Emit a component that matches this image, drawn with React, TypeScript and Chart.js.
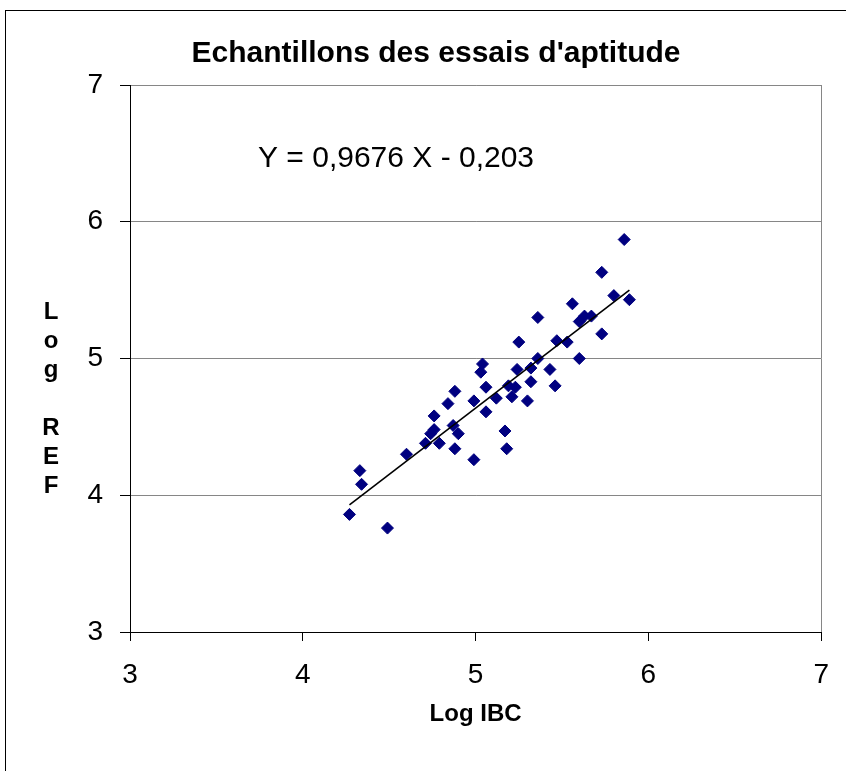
import { useEffect, useRef } from "react";
import { Chart, registerables } from "chart.js";

Chart.register(...registerables);

const FONT = '"Liberation Sans", Arial, Helvetica, sans-serif';

const titleText = "Echantillons des essais d'aptitude";
const xAxisTitle = "Log IBC";
const yAxisTitleLetters = ["L", "o", "g", "", "R", "E", "F"];
const equationText = "Y = 0,9676 X - 0,203";

const axisMin = 3;
const axisMax = 7;
const axisStep = 1;

const logIBC = [
  4.27, 4.33, 4.34, 4.49, 4.6, 4.71, 4.74, 4.76, 4.76, 4.79, 4.84, 4.87, 4.9, 4.88, 4.88, 4.99,
  4.99, 5.03, 5.04, 5.06, 5.06, 5.12, 5.17, 5.18, 5.19, 5.23, 5.21, 5.24, 5.25, 5.3, 5.32, 5.32,
  5.36, 5.36, 5.43, 5.46, 5.47, 5.53, 5.56, 5.6, 5.6, 5.63, 5.67, 5.73, 5.73, 5.8, 5.86, 5.89,
];
const logREF = [
  3.86, 4.18, 4.08, 3.76, 4.3, 4.38, 4.45, 4.48, 4.58, 4.38, 4.67, 4.51, 4.45, 4.34, 4.76, 4.26,
  4.69, 4.9, 4.96, 4.79, 4.61, 4.71, 4.47, 4.34, 4.8, 4.79, 4.72, 4.92, 5.12, 4.69, 4.93, 4.83,
  5.3, 5.0, 4.92, 4.8, 5.13, 5.12, 5.4, 5.0, 5.27, 5.31, 5.31, 5.63, 5.18, 5.46, 5.87, 5.43,
];

const trendX = [4.27, 5.89];
const trendY = [3.93, 5.5];

const overlayPlugin = {
  id: "overlay",
  beforeDraw(chart: any) {
    const ctx = chart.ctx;
    ctx.save();
    ctx.fillStyle = "#ffffff";
    ctx.fillRect(0, 0, chart.width, chart.height);
    ctx.strokeStyle = "#000000";
    ctx.lineWidth = 1;
    ctx.strokeRect(5.5, 10.5, 1000, 1000);
    ctx.restore();
  },
  afterDraw(chart: any) {
    const ctx = chart.ctx;
    ctx.save();
    ctx.fillStyle = "#000000";
    ctx.textBaseline = "alphabetic";
    ctx.textAlign = "left";
    ctx.font = `30px ${FONT}`;
    ctx.fillText(equationText, 258, 167);
    ctx.font = `bold 24px ${FONT}`;
    ctx.textAlign = "center";
    yAxisTitleLetters.forEach((letter, i) => {
      if (letter) ctx.fillText(letter, 51, 319 + i * 29);
    });
    ctx.restore();
  },
};

export default function App() {
  const canvasRef = useRef<HTMLCanvasElement | null>(null);

  useEffect(() => {
    const canvas = canvasRef.current;
    if (!canvas) return;
    const points = logIBC.map((x, i) => ({ x, y: logREF[i] }));
    const trend = trendX.map((x, i) => ({ x, y: trendY[i] }));
    const chart = new Chart(canvas, {
      type: "scatter",
      data: {
        datasets: [
          {
            type: "line",
            label: "Tendance",
            data: trend,
            borderColor: "#000000",
            borderWidth: 1.6,
            pointRadius: 0,
            fill: false,
            order: 0,
          } as any,
          {
            label: "Echantillons",
            data: points,
            pointStyle: "rectRot",
            pointRadius: 6,
            pointBackgroundColor: "#000080",
            pointBorderColor: "#000080",
            pointBorderWidth: 1,
            order: 1,
          },
        ],
      },
      options: {
        animation: false,
        responsive: false,
        maintainAspectRatio: false,
        layout: { padding: { left: 50, right: 24, top: 0, bottom: 0 } },
        plugins: {
          legend: { display: false },
          tooltip: { enabled: false },
          title: {
            display: true,
            text: titleText,
            color: "#000000",
            font: { family: FONT, size: 30, weight: "bold", lineHeight: 1.2 },
            padding: { top: 36, bottom: 13 },
          },
        },
        scales: {
          x: {
            type: "linear",
            min: axisMin,
            max: axisMax,
            ticks: {
              stepSize: axisStep,
              color: "#000000",
              font: { family: FONT, size: 28 },
              padding: 17,
            },
            grid: {
              color: (c: any) => (c.tick && c.tick.value === axisMax ? "#868686" : "rgba(0,0,0,0)"),
              tickColor: "#000000",
              tickLength: 9,
              drawOnChartArea: true,
            },
            border: { color: "#000000", width: 1 },
            title: {
              display: true,
              text: xAxisTitle,
              color: "#000000",
              font: { family: FONT, size: 24, weight: "bold", lineHeight: 1.2 },
              padding: { top: 0, bottom: 42 },
            },
            afterFit: (scale: any) => {
              scale.height = 139;
            },
          },
          y: {
            type: "linear",
            min: axisMin,
            max: axisMax,
            ticks: {
              stepSize: axisStep,
              color: "#000000",
              font: { family: FONT, size: 28 },
              padding: 17,
            },
            grid: {
              color: "#868686",
              tickColor: "#000000",
              tickLength: 10,
            },
            border: { color: "#000000", width: 1 },
            afterFit: (scale: any) => {
              scale.width = 80;
            },
          },
        },
      },
      plugins: [overlayPlugin],
    });
    return () => chart.destroy();
  }, []);

  return (
    <div style={{ position: "absolute", left: 0, top: 0, width: 846, height: 771, overflow: "hidden", background: "#fff" }}>
      <canvas ref={canvasRef} width={846} height={771} style={{ display: "block", width: 846, height: 771 }} />
    </div>
  );
}
